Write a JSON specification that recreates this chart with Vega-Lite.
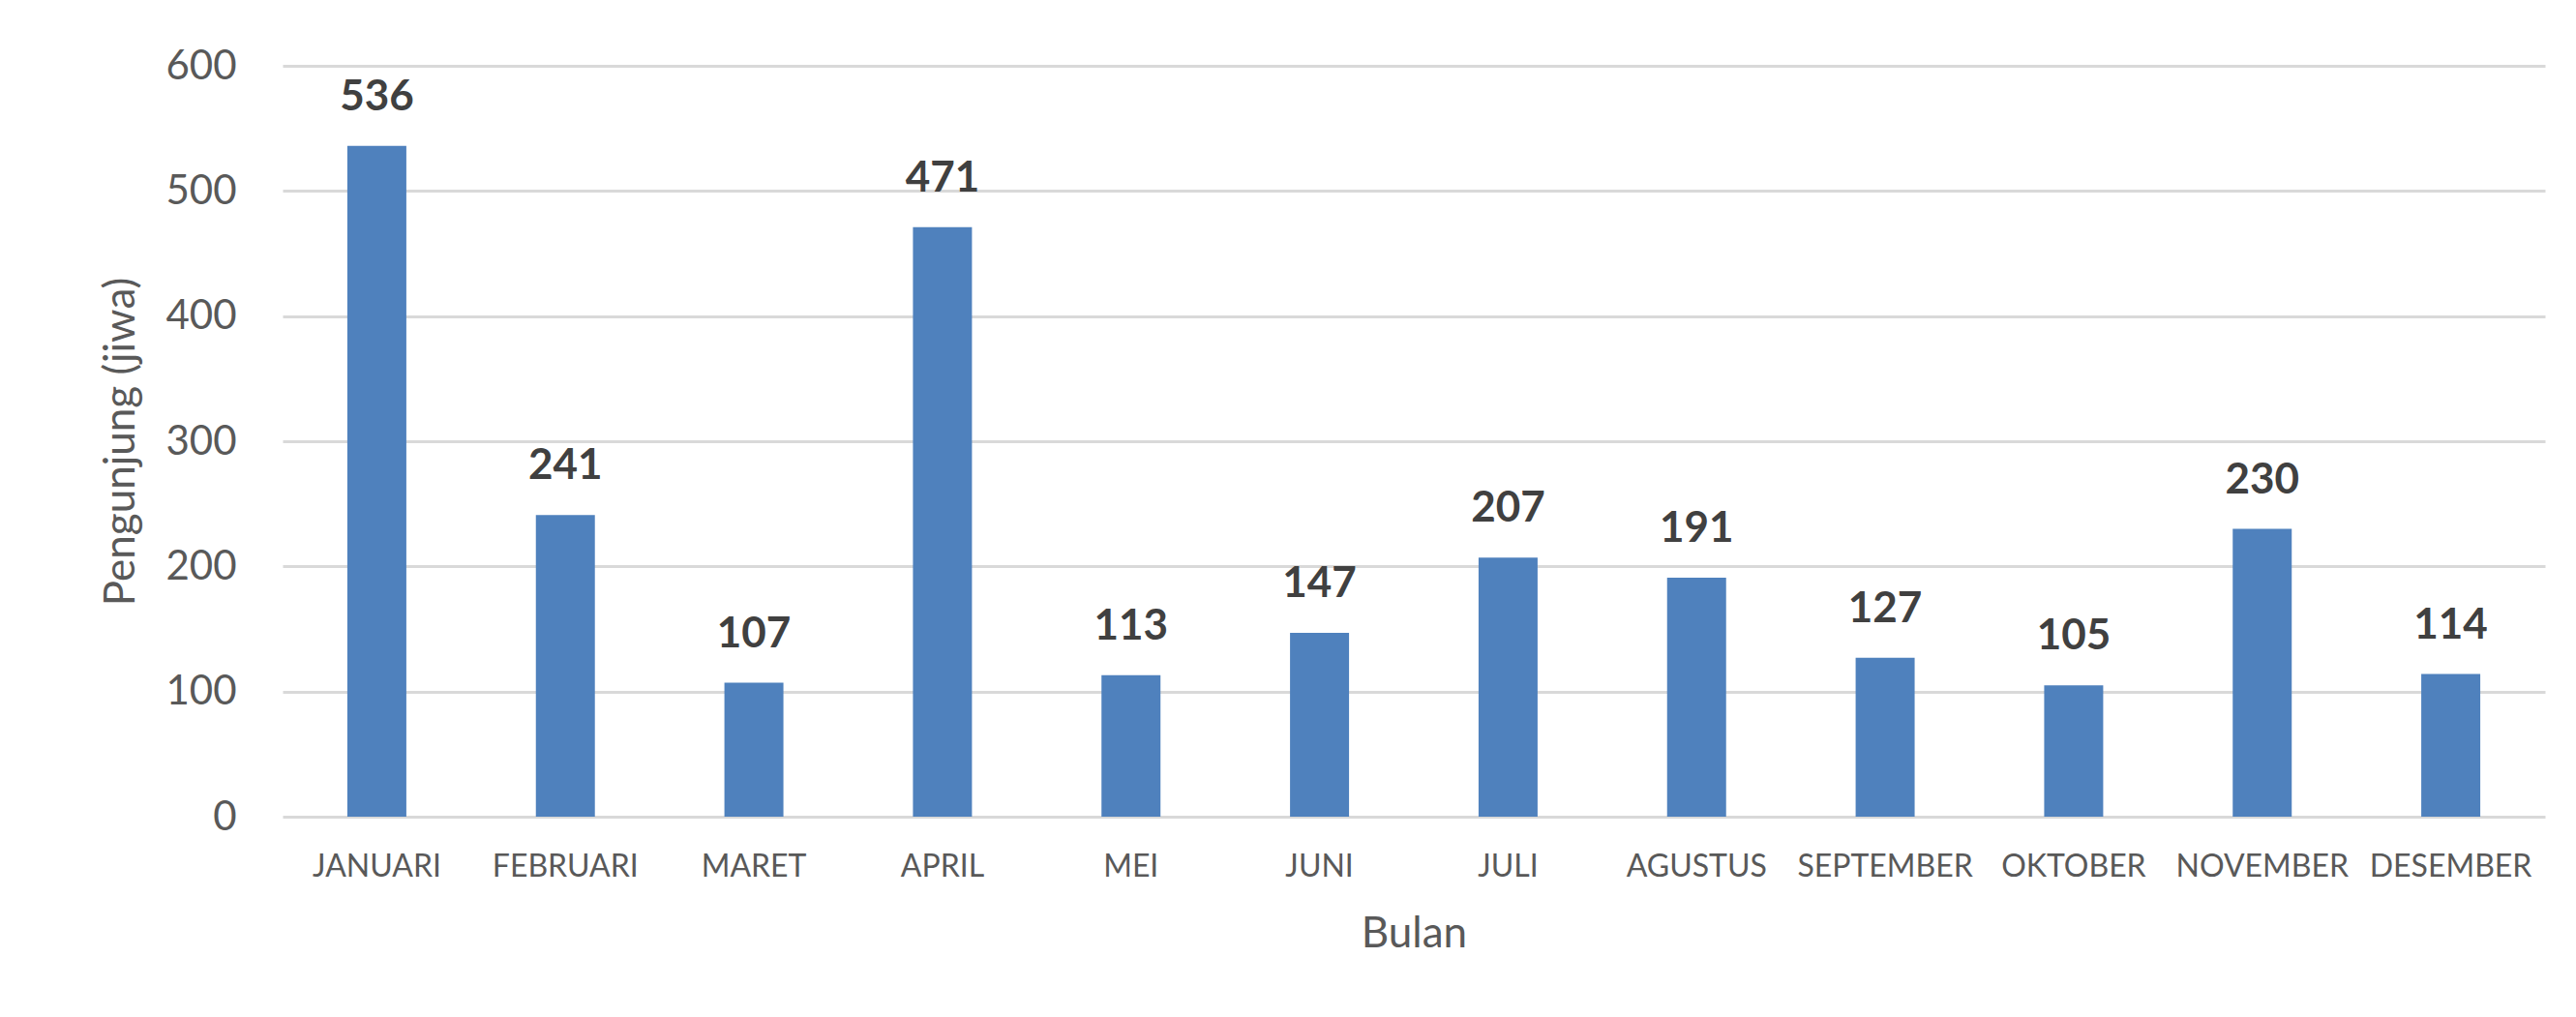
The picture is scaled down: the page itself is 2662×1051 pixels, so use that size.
{
  "$schema": "https://vega.github.io/schema/vega-lite/v6.json",
  "autosize": {"type": "none"},
  "padding": {"left": 292, "top": 68, "right": 32, "bottom": 207},
  "width": 2338,
  "height": 776,
  "background": "#ffffff",
  "config": {
    "view": {"stroke": null},
    "font": "Lato"
  },
  "data": {
    "values": [
      {"bulan": "JANUARI", "pengunjung": 536},
      {"bulan": "FEBRUARI", "pengunjung": 241},
      {"bulan": "MARET", "pengunjung": 107},
      {"bulan": "APRIL", "pengunjung": 471},
      {"bulan": "MEI", "pengunjung": 113},
      {"bulan": "JUNI", "pengunjung": 147},
      {"bulan": "JULI", "pengunjung": 207},
      {"bulan": "AGUSTUS", "pengunjung": 191},
      {"bulan": "SEPTEMBER", "pengunjung": 127},
      {"bulan": "OKTOBER", "pengunjung": 105},
      {"bulan": "NOVEMBER", "pengunjung": 230},
      {"bulan": "DESEMBER", "pengunjung": 114}
    ]
  },
  "encoding": {
    "x": {
      "field": "bulan",
      "type": "nominal",
      "sort": null,
      "scale": {"paddingInner": 0.687, "paddingOuter": 0.3435},
      "axis": {
        "title": "Bulan",
        "labelAngle": 0,
        "ticks": false,
        "tickSize": 0,
        "domain": false,
        "labelFont": "Lato",
        "labelFontSize": 32,
        "labelColor": "#595959",
        "labelPadding": 36,
        "labelLimit": 400,
        "labelOverlap": false,
        "titleFont": "Lato",
        "titleFontSize": 44,
        "titleFontWeight": "normal",
        "titleColor": "#595959",
        "titlePadding": 32
      }
    },
    "y": {
      "field": "pengunjung",
      "type": "quantitative",
      "scale": {"domain": [0, 600], "nice": false},
      "axis": {
        "title": "Pengunjung (jiwa)",
        "values": [0, 100, 200, 300, 400, 500, 600],
        "ticks": false,
        "tickSize": 0,
        "domain": false,
        "grid": true,
        "gridColor": "#d9d9d9",
        "gridWidth": 3,
        "labelFont": "Lato",
        "labelFontSize": 42,
        "labelColor": "#595959",
        "labelPadding": 48,
        "titleFont": "Lato",
        "titleFontSize": 44,
        "titleFontWeight": "normal",
        "titleColor": "#595959",
        "titlePadding": 23
      }
    }
  },
  "layer": [
    {"mark": {"type": "bar", "color": "#4F81BD"}},
    {
      "mark": {
        "type": "text",
        "baseline": "alphabetic",
        "dy": -37,
        "fontSize": 44,
        "fontWeight": "bold",
        "font": "Lato",
        "color": "#404040"
      },
      "encoding": {"text": {"field": "pengunjung", "type": "quantitative"}}
    }
  ]
}
